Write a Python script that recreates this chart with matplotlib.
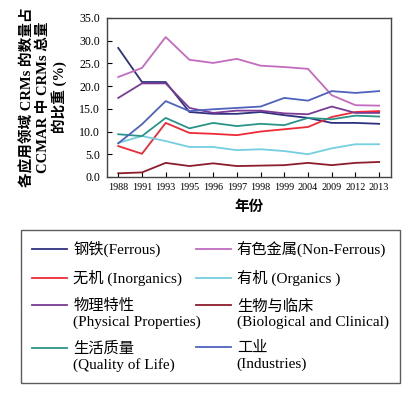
import numpy as np
import matplotlib
matplotlib.use("Agg")
import matplotlib.pyplot as plt
from matplotlib.legend_handler import HandlerLine2D

plt.rcParams["font.family"] = ["Liberation Serif", "Noto Sans CJK SC"]

years = ["1988", "1991", "1993", "1995", "1996", "1997", "1998", "1999",
         "2004", "2009", "2012", "2013"]

ferrous = [28.4, 20.9, 20.9, 14.3, 13.9, 13.9, 14.3, 13.6, 13.0, 11.9, 11.9, 11.7]
non_ferrous = [22.0, 24.0, 30.8, 25.8, 25.1, 26.0, 24.5, 24.2, 23.8, 18.0, 15.8, 15.7]
inorganics = [6.8, 5.1, 11.9, 9.7, 9.5, 9.2, 10.0, 10.5, 11.0, 13.2, 14.3, 14.5]
organics = [7.5, 9.0, 7.9, 6.6, 6.6, 5.9, 6.1, 5.7, 5.0, 6.3, 7.2, 7.2]
physical = [17.4, 20.6, 20.6, 15.2, 14.1, 14.6, 14.6, 14.0, 13.8, 15.5, 14.1, 14.1]
biological = [0.8, 1.0, 3.1, 2.4, 3.0, 2.4, 2.5, 2.6, 3.1, 2.6, 3.1, 3.3]
quality = [9.4, 9.0, 13.0, 10.7, 11.9, 11.2, 11.7, 11.4, 13.0, 12.7, 13.5, 13.3]
industries = [7.4, 11.6, 16.7, 14.5, 14.9, 15.2, 15.5, 17.4, 16.8, 18.9, 18.5, 18.9]

labels = {
    "ferrous": "钢铁(Ferrous)",
    "non_ferrous": "有色金属(Non-Ferrous)",
    "inorganics": "无机 (Inorganics)",
    "organics": "有机 (Organics )",
    "physical": "物理特性\n(Physical Properties)",
    "biological": "生物与临床\n(Biological and Clinical)",
    "quality": "生活质量\n(Quality of Life)",
    "industries": "工业\n(Industries)",
}


class FirstLineHandler(HandlerLine2D):
    # put the legend line next to the first line of a two-line label
    def create_artists(self, legend, orig_handle, xdescent, ydescent,
                       width, height, fontsize, trans):
        artists = super().create_artists(legend, orig_handle, xdescent, ydescent,
                                         width, height, fontsize, trans)
        for a in artists:
            a.set_ydata(np.asarray(a.get_ydata()) + 0.6 * fontsize)
        return artists


fig = plt.figure(figsize=(4.2, 3.95), dpi=100)
ax = fig.add_axes([0.255, 0.552, 0.676, 0.4025])

x = np.arange(len(years))
series = [
    ("ferrous", ferrous, "#2e3180"),
    ("non_ferrous", non_ferrous, "#c36bbf"),
    ("inorganics", inorganics, "#ee2a36"),
    ("organics", organics, "#74cfe0"),
    ("physical", physical, "#7b3b96"),
    ("biological", biological, "#8c1d2c"),
    ("quality", quality, "#2a9488"),
    ("industries", industries, "#4e62bd"),
]
lines = {}
for key, vals, color in series:
    (ln,) = ax.plot(x, vals, color=color, lw=1.3, label=labels[key])
    lines[key] = ln

ax.set_xlim(-0.47, 11.5)
ax.set_ylim(0, 35)
ax.set_xticks(x)
ax.set_xticklabels(years, fontsize=7.3)
ax.set_yticks(np.arange(0, 35.1, 5))
ax.set_yticklabels([f"{v:.1f}" for v in np.arange(0, 35.1, 5)], fontsize=8.6)
ax.tick_params(direction="in", length=3.5, width=0.8, top=False, right=False)
ax.tick_params(axis="x", pad=4)
ax.tick_params(axis="y", pad=5)
for sp in ax.spines.values():
    sp.set_color("#444444")
    sp.set_linewidth(1.0)

ax.set_ylabel("各应用领域 CRMs 的数量占\nCCMAR 中 CRMs 总量\n的比重 (%)",
              fontsize=10.5, fontweight="bold", linespacing=1.15)
ax.yaxis.set_label_coords(-0.14, 0.5)
ax.set_xlabel("年份", fontsize=10.5, fontweight="bold", va="top")
ax.xaxis.set_label_coords(0.5, -0.15)

order = ["ferrous", "inorganics", "physical", "quality",
         "non_ferrous", "organics", "biological", "industries"]
handles = [lines[k] for k in order]
hmap = {lines[k]: FirstLineHandler() for k in ["physical", "biological", "quality", "industries"]}
leg = fig.legend(handles, [labels[k] for k in order], ncol=2,
                 loc="upper left", bbox_to_anchor=(0.05, 0.035, 0.902, 0.383),
                 mode="expand", fontsize=11, frameon=True, fancybox=False,
                 edgecolor="#333333", borderpad=0.72, labelspacing=0.85,
                 handlelength=2.3, handletextpad=0.4, columnspacing=0.3,
                 borderaxespad=0, handler_map=hmap)
leg.get_frame().set_linewidth(1.0)

fig.savefig("out.png", dpi=100)
